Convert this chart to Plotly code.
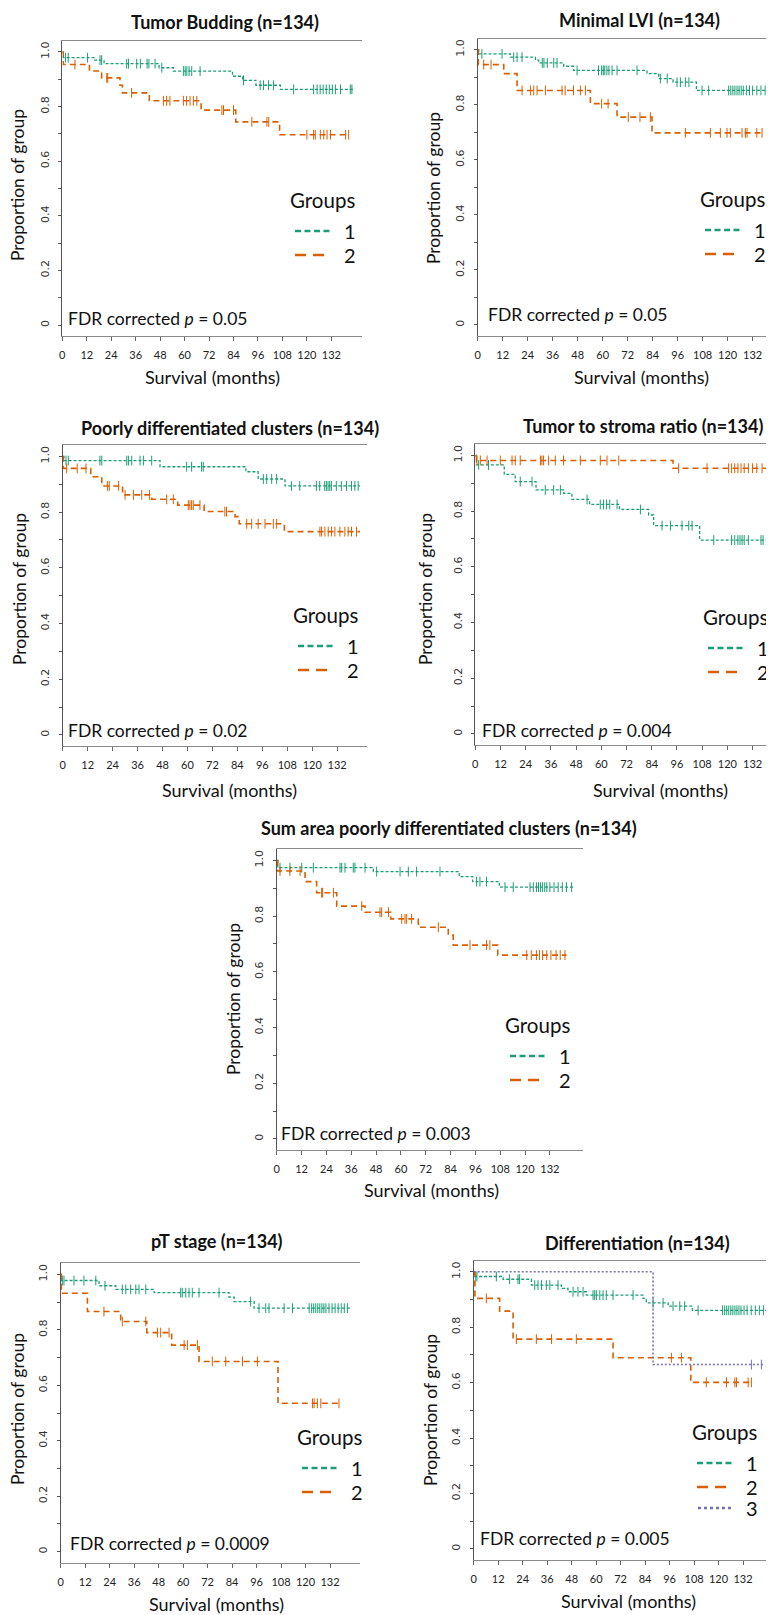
import plotly.graph_objects as go

W, H = 774, 1615

# ---------------- data (months, proportion surviving) ----------------
# Panel 1: Tumor Budding
tb_g1_time = [0.5, 15.5, 20.5, 47.5, 54.5, 83.5, 88.5, 95.0, 107.0]
tb_g1_surv = [0.979, 0.970, 0.957, 0.942, 0.930, 0.911, 0.896, 0.878, 0.863]
tb_g1_cens = [1.6, 2.9, 12.4, 18.5, 19.3, 31.6, 32.5, 36.5, 38.3, 41.6, 42.5, 45.5, 48.8,
              59.4, 60.3, 61.1, 62.2, 63.5, 67.6, 88.9, 97.1, 98.7, 101.2, 103.6, 113.5,
              123.3, 125.0, 126.5, 128.0, 129.5, 131.0, 132.5, 134.0, 136.5, 141.3, 142.1]
tb_g1_end = 143.0
tb_g2_time = [0.5, 13.3, 19.3, 28.3, 29.5, 42.7, 68.1, 85.1, 106.6]
tb_g2_surv = [0.954, 0.930, 0.905, 0.878, 0.850, 0.821, 0.787, 0.744, 0.697]
tb_g2_cens = [6.2, 21.8, 22.3, 34.0, 49.6, 51.2, 52.8, 59.4, 61.0, 62.7, 64.3, 66.0, 78.3,
              79.1, 84.0, 93.0, 100.4, 101.3, 120.0, 123.3, 124.1, 126.6, 128.3, 129.9,
              131.6, 139.0, 140.5]
tb_g2_end = 140.5

# Panel 2: Minimal LVI
lvi_g1_time = [0.5, 15.7, 27.7, 29.3, 41.3, 46.0, 81.3, 86.9, 93.8, 105.0]
lvi_g1_surv = [0.985, 0.973, 0.962, 0.952, 0.940, 0.925, 0.913, 0.895, 0.882, 0.852]
lvi_g1_cens = [2.0, 11.7, 17.3, 18.9, 21.3, 31.0, 31.8, 33.4, 36.5, 38.1, 47.7, 58.0, 59.5,
               60.3, 61.0, 62.0, 63.0, 64.5, 66.9, 76.5, 87.7, 91.0, 95.7, 97.3, 99.7,
               101.4, 107.7, 110.9, 120.5, 121.5, 122.5, 123.5, 124.5, 125.5, 126.5, 127.5,
               129.0, 130.5, 132.0, 134.0, 136.0, 138.0, 140.0]
lvi_g1_end = 143.0
lvi_g2_time = [0.3, 12.5, 18.9, 54.1, 66.9, 83.7]
lvi_g2_surv = [0.946, 0.913, 0.852, 0.804, 0.755, 0.698]
lvi_g2_cens = [2.9, 6.4, 21.3, 25.3, 26.9, 28.5, 32.5, 40.5, 42.0, 46.0, 49.3, 51.7, 59.5,
               62.6, 72.3, 77.9, 82.9, 99.7, 111.7, 116.5, 119.7, 121.3, 126.9, 128.5,
               129.3, 134.0, 136.5]
lvi_g2_end = 137.3

# Panel 3: Poorly differentiated clusters
pdc_g1_time = [0.6, 46.8, 88.1, 94.0, 106.9]
pdc_g1_surv = [0.985, 0.963, 0.945, 0.919, 0.894]
pdc_g1_cens = [1.6, 2.7, 17.9, 18.8, 30.8, 31.6, 33.2, 37.2, 38.8, 42.8, 59.6, 62.0, 66.8,
               67.6, 96.5, 98.1, 100.5, 102.9, 110.0, 114.0, 122.0, 123.6, 126.0, 126.8,
               127.6, 128.4, 129.2, 131.6, 134.0, 136.5, 138.9, 140.5, 142.1]
pdc_g1_end = 143.0
pdc_g2_time = [0.3, 13.5, 18.8, 28.8, 42.8, 55.3, 68.0, 82.9, 84.9, 106.6]
pdc_g2_surv = [0.957, 0.927, 0.894, 0.862, 0.846, 0.825, 0.802, 0.784, 0.758, 0.730]
pdc_g2_cens = [1.9, 7.0, 11.2, 21.5, 22.4, 26.9, 30.0, 34.0, 38.0, 41.7, 50.0, 53.2, 60.4,
               61.2, 62.0, 62.8, 66.0, 78.0, 78.8, 88.5, 90.9, 94.0, 97.3, 101.3, 102.9,
               123.7, 124.5, 126.1, 127.7, 129.3, 130.9, 133.3, 135.7, 137.3, 138.9, 141.3]
pdc_g2_end = 143.0

# Panel 4: Tumor to stroma ratio
tsr_g1_time = [0.5, 13.8, 19.0, 28.9, 42.1, 46.0, 54.4, 68.6, 82.5, 84.9, 106.8]
tsr_g1_surv = [0.966, 0.932, 0.906, 0.876, 0.864, 0.842, 0.824, 0.806, 0.786, 0.748, 0.696]
tsr_g1_cens = [1.6, 6.3, 21.4, 27.0, 33.3, 37.3, 40.5, 53.2, 59.5, 61.0, 62.5, 64.0, 67.5,
               78.6, 88.9, 92.9, 98.4, 101.6, 103.2, 113.5, 122.0, 123.5, 125.0, 126.0,
               127.0, 128.0, 130.0, 136.0, 137.0, 141.0]
tsr_g1_end = 143.5
tsr_g2_time = [0.5, 94.1]
tsr_g2_surv = [0.982, 0.954]
tsr_g2_cens = [0.8, 2.4, 5.6, 11.9, 17.5, 19.0, 21.4, 31.0, 31.7, 32.5, 34.9, 38.1, 42.0,
               50.0, 59.5, 62.7, 68.3, 96.8, 110.3, 120.6, 122.0, 123.5, 125.0, 126.5,
               128.0, 130.0, 132.0, 134.0, 136.5, 139.0, 141.0]
tsr_g2_end = 143.5

# Panel 5: Sum area poorly differentiated clusters
sum_g1_time = [0.5, 46.7, 88.2, 94.7, 107.6]
sum_g1_surv = [0.974, 0.960, 0.942, 0.924, 0.904]
sum_g1_cens = [1.6, 6.4, 12.1, 17.7, 30.6, 31.4, 33.0, 37.0, 37.8, 42.7, 48.3, 59.6, 63.6,
               67.6, 78.9, 96.6, 98.2, 101.4, 110.3, 114.3, 122.4, 124.0, 125.5, 126.5,
               127.5, 128.5, 129.5, 130.5, 132.0, 134.0, 136.0, 138.0, 140.0, 142.5]
sum_g1_end = 143.3
sum_g2_time = [0.5, 13.7, 19.3, 29.0, 42.7, 55.1, 68.4, 82.9, 85.3, 106.8]
sum_g2_surv = [0.962, 0.924, 0.884, 0.836, 0.814, 0.790, 0.760, 0.732, 0.696, 0.660]
sum_g2_cens = [1.6, 6.4, 11.3, 21.7, 22.2, 27.4, 41.1, 49.9, 50.7, 54.0, 60.4, 62.0, 62.8,
               65.2, 78.1, 93.4, 101.4, 103.0, 120.8, 123.0, 125.5, 127.0, 128.5, 130.5,
               132.5, 135.0, 137.0, 139.3]
sum_g2_end = 140.0

# Panel 6: pT stage
pt_g1_time = [0.3, 18.8, 27.0, 45.8, 82.5, 85.0, 94.8]
pt_g1_surv = [0.978, 0.959, 0.946, 0.934, 0.918, 0.902, 0.878]
pt_g1_cens = [0.8, 1.6, 6.5, 11.4, 17.2, 21.7, 30.2, 31.9, 34.3, 36.8, 38.4, 41.7, 58.8,
              59.6, 61.3, 62.9, 64.5, 67.8, 77.6, 93.1, 97.2, 100.5, 102.1, 109.5, 113.6,
              121.8, 123.0, 124.0, 125.0, 126.0, 127.0, 128.0, 129.0, 130.0, 131.5, 133.0,
              134.5, 136.0, 137.5, 139.0, 140.5]
pt_g1_end = 142.2
pt_g2_time = [0.3, 13.1, 29.4, 42.2, 54.4, 67.8, 106.5]
pt_g2_surv = [0.932, 0.866, 0.830, 0.790, 0.745, 0.686, 0.535]
pt_g2_cens = [21.2, 30.2, 41.7, 47.4, 49.0, 53.1, 60.5, 62.1, 67.0, 74.3, 80.9, 89.1, 96.4,
              123.4, 124.2, 125.8, 127.5, 136.4]
pt_g2_end = 137.3

# Panel 7: Differentiation
dif_g1_time = [0.3, 14.4, 28.3, 43.0, 46.2, 55.2, 83.0, 84.6, 95.3, 107.2]
dif_g1_surv = [0.983, 0.973, 0.952, 0.940, 0.928, 0.916, 0.904, 0.888, 0.876, 0.861]
dif_g1_cens = [1.0, 1.6, 11.1, 17.6, 21.7, 22.5, 29.9, 31.5, 33.2, 35.6, 37.3, 41.3, 48.7,
               51.1, 53.6, 58.5, 59.3, 60.1, 61.8, 63.4, 65.0, 68.3, 78.1, 87.9, 92.8, 97.7,
               101.0, 103.4, 110.0, 122.0, 123.0, 124.0, 125.0, 126.0, 127.0, 128.0, 129.0,
               130.0, 131.0, 132.5, 134.0, 136.0, 138.0, 140.0, 142.0]
dif_g1_end = 143.5
dif_g2_time = [0.6, 12.7, 19.3, 68.3, 106.4]
dif_g2_surv = [0.904, 0.858, 0.757, 0.690, 0.601]
dif_g2_cens = [6.2, 20.9, 30.7, 38.1, 50.3, 96.9, 101.8, 114.0, 123.9, 128.0, 128.8, 134.5, 136.1]
dif_g2_end = 137.0
dif_g3_time = [87.9]
dif_g3_surv = [0.665]
dif_g3_cens = [136.1, 141.0]
dif_g3_end = 141.8

x_ticks = list(range(0, 133, 12))
y_ticks = [0, 0.2, 0.4, 0.6, 0.8, 1.0]
y_tick_text = ["0", "0.2", "0.4", "0.6", "0.8", "1.0"]

# ---------------- styling ----------------
FONT = "Lato"
GREEN, ORANGE, PURPLE = "#1B9E77", "#D95F02", "#7570B3"
STYLE = {
    1: dict(color=GREEN, dash="3px,2px", width=1.3, ldash="6px,3.5px", lx=(7, 42)),
    2: dict(color=ORANGE, dash="6px,4px", width=1.6, ldash="11px,7px", lx=(7, 36)),
    3: dict(color=PURPLE, dash="2px,2px", width=1.5, ldash="3px,3px", lx=(8, 41)),
}

# page offset of the figure inside the html body (default body margin)
OX, OY = 8, 8

# positions in screen pixels; box = (left, right, top, bottom)
panels = [
    dict(title="Tumor Budding (n=134)", fdr="0.05",
         box=(62.3, 361.5, 41, 336), xmax=146.8,
         tpos=(225, 22), ytpos=(18, 185), xtpos=(212, 377), fpos=(66, 318), lpos=(288, 200),
         curves=[(1, tb_g1_time, tb_g1_surv, tb_g1_cens, tb_g1_end),
                 (2, tb_g2_time, tb_g2_surv, tb_g2_cens, tb_g2_end)]),
    dict(title="Minimal LVI (n=134)", fdr="0.05",
         box=(477.7, 782, 38.7, 336), xmax=146.1,
         tpos=(639, 20), ytpos=(434, 188), xtpos=(641, 377), fpos=(486, 314), lpos=(698, 199),
         curves=[(1, lvi_g1_time, lvi_g1_surv, lvi_g1_cens, lvi_g1_end),
                 (2, lvi_g2_time, lvi_g2_surv, lvi_g2_cens, lvi_g2_end)]),
    dict(title="Poorly differentiated clusters (n=134)", fdr="0.02",
         box=(62.7, 366.7, 445.3, 746), xmax=146.2,
         tpos=(230, 428), ytpos=(19, 589), xtpos=(229, 790), fpos=(66, 731), lpos=(291, 615),
         curves=[(1, pdc_g1_time, pdc_g1_surv, pdc_g1_cens, pdc_g1_end),
                 (2, pdc_g2_time, pdc_g2_surv, pdc_g2_cens, pdc_g2_end)]),
    dict(title="Tumor to stroma ratio (n=134)", fdr="0.004",
         box=(475.3, 782, 444.3, 745), xmax=146.0,
         tpos=(643, 426), ytpos=(425, 589), xtpos=(660, 790), fpos=(480, 731), lpos=(701, 617),
         curves=[(1, tsr_g1_time, tsr_g1_surv, tsr_g1_cens, tsr_g1_end),
                 (2, tsr_g2_time, tsr_g2_surv, tsr_g2_cens, tsr_g2_end)]),
    dict(title="Sum area poorly differentiated clusters (n=134)", fdr="0.003",
         box=(276.7, 583, 849.3, 1150), xmax=148.0,
         tpos=(449, 828), ytpos=(233, 999), xtpos=(431, 1190), fpos=(279, 1133), lpos=(503, 1025),
         curves=[(1, sum_g1_time, sum_g1_surv, sum_g1_cens, sum_g1_end),
                 (2, sum_g2_time, sum_g2_surv, sum_g2_cens, sum_g2_end)]),
    dict(title="pT stage (n=134)", fdr="0.0009",
         box=(60.7, 360, 1263.3, 1562.7), xmax=146.7,
         tpos=(217, 1241), ytpos=(17, 1409), xtpos=(216, 1604), fpos=(68, 1543), lpos=(295, 1437),
         curves=[(1, pt_g1_time, pt_g1_surv, pt_g1_cens, pt_g1_end),
                 (2, pt_g2_time, pt_g2_surv, pt_g2_cens, pt_g2_end)]),
    dict(title="Differentiation (n=134)", fdr="0.005",
         box=(473.7, 782, 1260.7, 1560), xmax=151.1,
         tpos=(637, 1243), ytpos=(430, 1410), xtpos=(628, 1601), fpos=(478, 1538), lpos=(690, 1432),
         curves=[(1, dif_g1_time, dif_g1_surv, dif_g1_cens, dif_g1_end),
                 (2, dif_g2_time, dif_g2_surv, dif_g2_cens, dif_g2_end),
                 (3, dif_g3_time, dif_g3_surv, dif_g3_cens, dif_g3_end)]),
]


def fx(px):
    return min(1.0, max(0.0, (px - OX) / W))


def fy(py):
    return min(1.0, max(0.0, 1 - (py - OY) / H))


def surv_at(times, survs, t):
    v = 1.0
    for ti, si in zip(times, survs):
        if ti <= t:
            v = si
    return v


fig = go.Figure()
annotations = []
shapes = []

for i, p in enumerate(panels, start=1):
    xa = "x" if i == 1 else f"x{i}"
    ya = "y" if i == 1 else f"y{i}"
    l, r, t, b = p["box"]
    for g, times, survs, cens, end in p["curves"]:
        st = STYLE[g]
        fig.add_trace(go.Scatter(
            x=[0] + times + [end], y=[1.0] + survs + [survs[-1]],
            mode="lines", line=dict(color=st["color"], dash=st["dash"], width=st["width"], shape="hv"),
            xaxis=xa, yaxis=ya, showlegend=False, hoverinfo="skip"))
        fig.add_trace(go.Scatter(
            x=cens, y=[surv_at(times, survs, c) for c in cens],
            mode="markers",
            marker=dict(symbol="line-ns", size=7, line=dict(color=st["color"], width=1)),
            xaxis=xa, yaxis=ya, showlegend=False, hoverinfo="skip"))

    key = "" if i == 1 else str(i)
    fig.layout[f"xaxis{key}"] = dict(
        domain=[fx(l), fx(r)], range=[0, p["xmax"]], anchor=ya, automargin=False,
        tickvals=x_ticks, ticks="outside", ticklen=4, tickcolor="#666",
        showline=True, linecolor="#8a8a8a", linewidth=1, mirror=True,
        showgrid=False, zeroline=False, ticklabelstandoff=5,
        tickfont=dict(family=FONT, size=11, color="#222"))
    fig.layout[f"yaxis{key}"] = dict(
        domain=[fy(b), fy(t)], range=[-0.04, 1.04], anchor=xa, automargin=False,
        tickvals=y_ticks, ticktext=y_tick_text, tickangle=-90,
        ticks="outside", ticklen=3, tickcolor="#555",
        minor=dict(dtick=0.1, ticks="outside", ticklen=3, tickcolor="#555"),
        showline=True, linecolor="#555", linewidth=1,
        showgrid=False, zeroline=False, ticklabelstandoff=5,
        tickfont=dict(family="DejaVu Sans", size=11, color="#333"))

    # titles
    annotations.append(dict(text=f"<b>{p['title']}</b>", x=fx(p["tpos"][0]), y=fy(p["tpos"][1]),
                            xref="paper", yref="paper", showarrow=False, xanchor="center", yanchor="middle",
                            font=dict(family=FONT, size=18, color="#111")))
    annotations.append(dict(text="Proportion of group", x=fx(p["ytpos"][0]), y=fy(p["ytpos"][1]),
                            xref="paper", yref="paper", showarrow=False, textangle=-90,
                            xanchor="center", yanchor="middle",
                            font=dict(family=FONT, size=17.5, color="#111")))
    annotations.append(dict(text="Survival (months)", x=fx(p["xtpos"][0]), y=fy(p["xtpos"][1]),
                            xref="paper", yref="paper", showarrow=False,
                            xanchor="center", yanchor="middle",
                            font=dict(family=FONT, size=18, color="#111")))
    annotations.append(dict(text=f"FDR corrected <i>p</i> = {p['fdr']}", x=fx(p["fpos"][0]), y=fy(p["fpos"][1]),
                            xref="paper", yref="paper", showarrow=False,
                            xanchor="left", yanchor="middle",
                            font=dict(family=FONT, size=17.5, color="#111")))
    # legend
    L, Gy = p["lpos"]
    annotations.append(dict(text="Groups", x=fx(L), y=fy(Gy), xref="paper", yref="paper",
                            showarrow=False, xanchor="left", yanchor="middle",
                            font=dict(family=FONT, size=20.5, color="#111")))
    row_off = [31, 55, 76]
    for k, (g, *_rest) in enumerate(p["curves"]):
        st = STYLE[g]
        yy = Gy + row_off[k]
        shapes.append(dict(type="line", xref="paper", yref="paper",
                           x0=fx(L + st["lx"][0]), x1=fx(L + st["lx"][1]), y0=fy(yy), y1=fy(yy),
                           line=dict(color=st["color"], width=2.5, dash=st["ldash"])))
        annotations.append(dict(text=str(g), x=fx(L + 62), y=fy(yy), xref="paper", yref="paper",
                                showarrow=False, xanchor="center", yanchor="middle",
                                font=dict(family=FONT, size=20, color="#111")))

fig.update_layout(
    template="none",
    width=W, height=H, margin=dict(l=0, r=0, t=0, b=0, pad=0, autoexpand=False),
    paper_bgcolor="white", plot_bgcolor="white",
    showlegend=False, annotations=annotations, shapes=shapes,
)

fig.write_html("out.html")
